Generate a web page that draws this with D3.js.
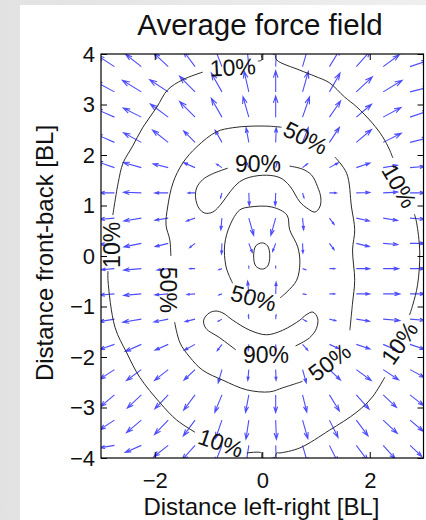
<!DOCTYPE html>
<html>
<head>
<meta charset="utf-8">
<script src="https://cdn.jsdelivr.net/npm/d3@7"></script>
<style>
body { margin: 0; background: #fff; }
svg { display: block; }
</style>
</head>
<body>
<div id="chart"></div>
<script>
// axis ticks
var xTicks = [-2, 0, 2];
var yTicks = [-4, -3, -2, -1, 0, 1, 2, 3, 4];

// quiver grid (BL)
var gridX = [-2.75, -2.25, -1.75, -1.25, -0.75, -0.25, 0.25, 0.75, 1.25, 1.75, 2.25, 2.75];
var gridY = [3.75, 3.25, 2.75, 2.25, 1.75, 1.25, 0.75, 0.25, -0.25, -0.75, -1.25, -1.75, -2.25, -2.75, -3.25, -3.75];

// force direction (degrees, 0 = right, 90 = forward) per grid row
var forceAngle = [
  [145, 140, 135, 125, 110,  95,  88,  75,  60,  50,  38,  20],
  [150, 147, 145, 133, 118, 102,  90,  75,  62,  45,  33,  15],
  [155, 152, 142, 133, 118, 105,  90,  72,  57,  42,  30,  20],
  [155, 150, 140, 133, 118, 100,  88,  70,  58,  42,  28,  15],
  [160, 163, 165, 155, 145, 110,  75,  40,  30,  20,  10,   5],
  [180, 178, 180, 180, 255, 272, 268, 285,   0,   2,   3,   0],
  [185, 190, 190, 200, 265, 285, 255, 275, 305, 347, 350, 355],
  [185, 192, 195, 220, 268, 290, 250, 272, 305, 345, 355,   0],
  [185, 185, 188, 180, 200,  90,  90, 340,   0,   0,   0,   0],
  [185, 185, 185, 185, 200,  95,  88, 350,   0,   0,   0,   0],
  [190, 190, 192, 195, 210,  95,  85, 330, 345, 350, 355, 355],
  [200, 205, 205, 210, 235, 265, 275, 310, 335, 340, 335, 340],
  [215, 218, 220, 225, 255, 265, 272, 285, 315, 322, 325, 330],
  [222, 225, 228, 235, 249, 260, 270, 283, 300, 310, 315, 320],
  [215, 222, 228, 235, 252, 262, 272, 285, 295, 305, 315, 318],
  [190, 205, 220, 230, 250, 262, 272, 285, 295, 305, 310, 315]
];

// force magnitude (arrow length in BL)
var forceMag = [
  [0.38, 0.38, 0.38, 0.38, 0.42, 0.42, 0.42, 0.42, 0.42, 0.42, 0.38, 0.35],
  [0.42, 0.42, 0.42, 0.42, 0.42, 0.42, 0.42, 0.42, 0.42, 0.42, 0.42, 0.38],
  [0.38, 0.38, 0.42, 0.42, 0.42, 0.42, 0.42, 0.42, 0.38, 0.38, 0.38, 0.38],
  [0.38, 0.38, 0.38, 0.31, 0.27, 0.29, 0.29, 0.31, 0.35, 0.38, 0.38, 0.35],
  [0.35, 0.35, 0.29, 0.23, 0.12, 0.10, 0.10, 0.12, 0.19, 0.27, 0.27, 0.27],
  [0.27, 0.33, 0.25, 0.13, 0.10, 0.25, 0.25, 0.10, 0.13, 0.25, 0.27, 0.27],
  [0.27, 0.33, 0.25, 0.17, 0.23, 0.35, 0.35, 0.23, 0.15, 0.25, 0.27, 0.27],
  [0.27, 0.33, 0.25, 0.13, 0.21, 0.19, 0.17, 0.19, 0.15, 0.25, 0.27, 0.27],
  [0.25, 0.33, 0.21, 0.10, 0.06, 0.04, 0.04, 0.06, 0.10, 0.25, 0.29, 0.27],
  [0.27, 0.33, 0.25, 0.15, 0.06, 0.25, 0.23, 0.06, 0.10, 0.25, 0.31, 0.27],
  [0.29, 0.35, 0.27, 0.19, 0.08, 0.08, 0.08, 0.08, 0.12, 0.25, 0.31, 0.27],
  [0.29, 0.33, 0.27, 0.23, 0.15, 0.12, 0.12, 0.15, 0.19, 0.27, 0.29, 0.29],
  [0.33, 0.35, 0.33, 0.29, 0.27, 0.21, 0.21, 0.27, 0.29, 0.35, 0.35, 0.31],
  [0.35, 0.37, 0.37, 0.37, 0.37, 0.35, 0.35, 0.35, 0.37, 0.37, 0.35, 0.33],
  [0.33, 0.37, 0.38, 0.38, 0.38, 0.38, 0.38, 0.38, 0.38, 0.38, 0.37, 0.33],
  [0.27, 0.33, 0.35, 0.38, 0.38, 0.38, 0.38, 0.38, 0.38, 0.38, 0.35, 0.31]
];

// contour lines, broken where the labels sit
var contour10 = [
  [[-0.08,3.86],[-0.01,3.88],[-0.01,3.99],[0.23,3.99],[0.27,3.88],[0.70,3.68],[0.98,3.56],[1.25,3.43],[1.53,3.15],[1.76,2.95],[2.05,2.63],[2.24,2.36],[2.37,2.10],[2.43,1.94]],
  [[2.83,0.83],[2.87,0.67],[2.93,0.08],[2.89,-0.57],[2.80,-0.97],[2.74,-1.17]],
  [[2.28,-2.40],[2.05,-2.79],[1.76,-3.09],[1.25,-3.45],[0.70,-3.80],[0.33,-3.90],[0.27,-3.90],[0.23,-3.99],[-0.01,-3.99],[-0.01,-3.90],[-0.29,-3.90]],
  [[-1.25,-3.49],[-1.59,-3.25],[-1.90,-2.91],[-2.28,-2.40],[-2.52,-1.92],[-2.74,-1.41],[-2.87,-0.48],[-2.87,-0.30]],
  [[-2.78,0.81],[-2.68,1.45],[-2.59,1.84],[-2.42,2.16],[-2.22,2.55],[-1.96,2.95],[-1.76,3.29],[-1.48,3.49],[-1.11,3.64]]
];
var contour50 = [
  [[0.36,2.55],[0.14,2.57],[-0.23,2.57],[-0.55,2.54],[-0.85,2.46],[-1.22,2.16],[-1.48,1.84],[-1.66,1.45],[-1.76,0.97],[-1.79,0.61],[-1.72,0.32],[-1.70,0.0]],
  [[-1.63,-1.31],[-1.53,-1.72],[-1.35,-2.00],[-1.11,-2.26],[-0.73,-2.46],[-0.29,-2.65],[0.14,-2.69],[0.38,-2.61],[0.70,-2.50],[0.75,-2.48]],
  [[1.63,-1.47],[1.68,-0.93],[1.72,-0.48],[1.68,0.12],[1.72,0.52],[1.66,0.97],[1.57,1.64],[1.35,1.96]],
  [[0.33,-0.83],[0.46,-0.71],[0.64,-0.48],[0.70,-0.14],[0.66,0.18],[0.51,0.52],[0.46,0.81],[0.18,0.97],[-0.23,0.97],[-0.42,0.91],[-0.60,0.61],[-0.70,0.22],[-0.68,-0.18],[-0.62,-0.38],[-0.55,-0.54]]
];
var contour90 = [
  [[0.51,1.78],[0.75,1.72],[0.92,1.60],[1.03,1.37],[1.09,1.15],[1.07,0.97],[0.98,0.87],[0.83,0.95],[0.70,1.07],[0.51,1.39],[0.33,1.55],[0.08,1.60],[-0.23,1.56],[-0.42,1.47],[-0.60,1.27],[-0.75,1.05],[-0.92,0.87],[-1.07,0.85],[-1.18,0.95],[-1.24,1.15],[-1.22,1.35],[-1.11,1.51],[-0.94,1.62],[-0.64,1.74]],
  [[0.62,-1.78],[0.88,-1.62],[1.01,-1.43],[1.03,-1.23],[0.94,-1.11],[0.81,-1.17],[0.70,-1.27],[0.38,-1.47],[0.08,-1.56],[-0.23,-1.47],[-0.55,-1.27],[-0.73,-1.13],[-0.86,-1.09],[-0.99,-1.13],[-1.09,-1.27],[-1.05,-1.43],[-0.79,-1.62],[-0.49,-1.86]]
];
var contourCore = [[0,0.26],[0.10,0.20],[0.14,0],[0.10,-0.20],[0,-0.26],[-0.12,-0.20],[-0.16,0],[-0.12,0.20]];

var labelText = ["10%", "50%", "90%", "10%", "10%", "50%", "50%", "90%", "50%", "10%", "10%"];
var labelX    = [-0.55, 0.81, -0.08, 2.55, -2.80, -1.74, -0.16, 0.07, 1.25, 2.55, -0.77];
var labelY    = [3.74, 2.34, 1.82, 1.39, 0.22, -0.67, -0.83, -1.96, -2.10, -1.72, -3.70];
var labelRot  = [-3, 27, 0, 60, -90, 90, 15, 0, -37, -55, 19];

var W = 426, H = 520;
var plotL = 101, plotR = 423.5, plotT = 54, plotB = 458;
var font = "'Liberation Sans', Arial, Helvetica, sans-serif";

var svg = d3.select("#chart").append("svg").attr("width", W).attr("height", H);

// page background with the grey strip on the left/top
var defs = svg.append("defs");
var grad = defs.append("linearGradient").attr("id", "side").attr("x1", "0").attr("x2", "1").attr("y1", "0").attr("y2", "0");
grad.append("stop").attr("offset", "0%").attr("stop-color", "#e2e2e2");
grad.append("stop").attr("offset", "100%").attr("stop-color", "#efefef");
svg.append("rect").attr("width", W).attr("height", H).attr("fill", "url(#side)");
svg.append("rect").attr("x", 20).attr("y", 5).attr("width", W - 20).attr("height", H - 5).attr("fill", "#fff");

defs.append("clipPath").attr("id", "plotclip").append("rect")
  .attr("x", plotL).attr("y", plotT).attr("width", plotR - plotL).attr("height", plotB - plotT);

var x = d3.scaleLinear().domain([-3, 3]).range([plotL, plotR]);
var y = d3.scaleLinear().domain([-4, 4]).range([plotB, plotT]);

// quiver arrows
var arrows = [];
gridY.forEach(function(yv, i) {
  gridX.forEach(function(xv, j) {
    var a = forceAngle[i][j] * Math.PI / 180, m = forceMag[i][j];
    arrows.push({x: xv, y: yv, u: m * Math.cos(a), v: m * Math.sin(a)});
  });
});
function arrowPath(d) {
  var x0 = x(d.x), y0 = y(d.y), x1 = x(d.x + d.u), y1 = y(d.y + d.v);
  var du = x1 - x0, dv = y1 - y0, al = 0.33, be = 0.33;
  return "M" + x0 + "," + y0 + "L" + x1 + "," + y1 +
    "M" + (x1 - al * (du + be * dv)) + "," + (y1 - al * (dv - be * du)) +
    "L" + x1 + "," + y1 +
    "L" + (x1 - al * (du - be * dv)) + "," + (y1 - al * (dv + be * du));
}
var plot = svg.append("g").attr("clip-path", "url(#plotclip)");
plot.selectAll("path.arrow").data(arrows).enter().append("path")
  .attr("class", "arrow")
  .attr("d", arrowPath)
  .attr("fill", "none")
  .attr("stroke", "#4d4dff")
  .attr("stroke-width", 1.1);

// contours
var line = d3.line().x(function(d) { return x(d[0]); }).y(function(d) { return y(d[1]); })
  .curve(d3.curveCatmullRom.alpha(0.5));
var segs = contour10.concat(contour50, contour90);
plot.selectAll("path.contour").data(segs).enter().append("path")
  .attr("class", "contour")
  .attr("d", line)
  .attr("fill", "none")
  .attr("stroke", "#2a2a2a")
  .attr("stroke-width", 1);
plot.append("path")
  .attr("d", d3.line().x(function(d) { return x(d[0]); }).y(function(d) { return y(d[1]); })
    .curve(d3.curveCatmullRomClosed.alpha(0.5))(contourCore))
  .attr("fill", "none").attr("stroke", "#2a2a2a").attr("stroke-width", 1);

// contour labels
svg.selectAll("text.clabel").data(labelText).enter().append("text")
  .attr("class", "clabel")
  .attr("transform", function(d, i) { return "translate(" + x(labelX[i]) + "," + y(labelY[i]) + ") rotate(" + labelRot[i] + ")"; })
  .attr("text-anchor", "middle")
  .attr("dy", "0.36em")
  .style("font-family", font).style("font-size", "23px").attr("fill", "#111")
  .text(function(d) { return d; });

// axes (ticks inside, box)
var fmt = d3.format("d");
var ax = svg.append("g").attr("transform", "translate(0," + plotB + ")")
  .call(d3.axisBottom(x).tickValues(xTicks).tickFormat(fmt).tickSizeInner(-6).tickSizeOuter(0).tickPadding(14));
var ay = svg.append("g").attr("transform", "translate(" + plotL + ",0)")
  .call(d3.axisLeft(y).tickValues(yTicks).tickFormat(fmt).tickSizeInner(-6).tickSizeOuter(0).tickPadding(6));
var axt = svg.append("g").attr("transform", "translate(0," + plotT + ")")
  .call(d3.axisTop(x).tickValues(xTicks).tickSizeInner(-6).tickSizeOuter(0).tickFormat(""));
var ayr = svg.append("g").attr("transform", "translate(" + plotR + ",0)")
  .call(d3.axisRight(y).tickValues(yTicks).tickSizeInner(-6).tickSizeOuter(0).tickFormat(""));
[ax, ay, axt, ayr].forEach(function(g) {
  g.select(".domain").remove();
  g.selectAll("line").attr("stroke", "#000");
  g.selectAll("text").style("font-family", font).style("font-size", "22px").attr("fill", "#111");
});
svg.append("rect").attr("x", plotL).attr("y", plotT).attr("width", plotR - plotL).attr("height", plotB - plotT)
  .attr("fill", "none").attr("stroke", "#000").attr("stroke-width", 1.2);

// titles
svg.append("text").attr("x", 260).attr("y", 35).attr("text-anchor", "middle")
  .style("font-family", font).style("font-size", "29.5px").attr("fill", "#111")
  .text("Average force field");
svg.append("text").attr("x", 261.5).attr("y", 515).attr("text-anchor", "middle")
  .style("font-family", font).style("font-size", "24px").attr("fill", "#111")
  .text("Distance left-right [BL]");
svg.append("text").attr("transform", "translate(53,253) rotate(-90)").attr("text-anchor", "middle")
  .style("font-family", font).style("font-size", "24px").attr("fill", "#111")
  .text("Distance front-back [BL]");
</script>
</body>
</html>
